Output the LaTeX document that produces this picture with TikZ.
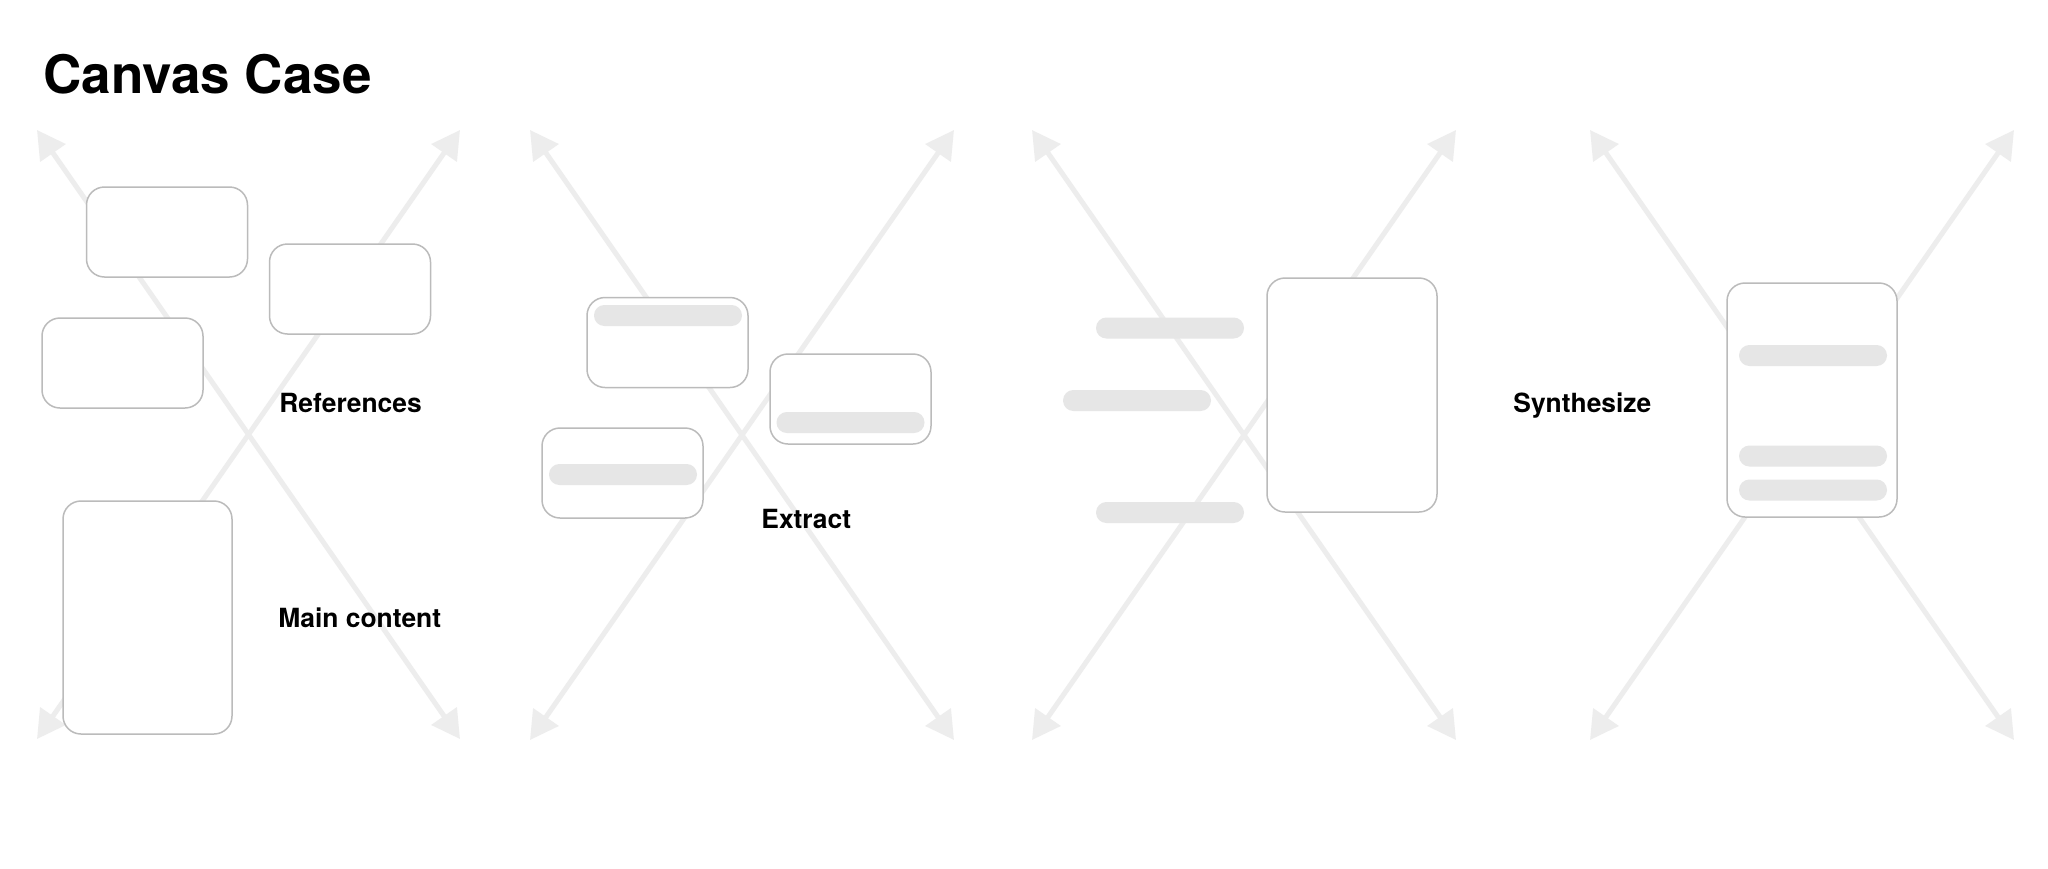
\documentclass[tikz,border=0pt]{standalone}
\usepackage{fontspec}
\setmainfont{TeX Gyre Heros}
\usetikzlibrary{arrows.meta}
\definecolor{xline}{HTML}{EDEDED}
\definecolor{cardline}{HTML}{BBBBBB}
\definecolor{barfill}{HTML}{E6E6E6}
\tikzset{
  xarrow/.style={draw=xline, line width=2.5pt,
    {Triangle[length=14pt,width=15pt]}-{Triangle[length=14pt,width=15pt]}},
  card/.style={draw=cardline, line width=0.75pt, fill=white, rounded corners=9pt,
    inner sep=0pt, minimum width=80.5pt, minimum height=45pt},
  bigcard/.style={card, minimum width=85pt, minimum height=117pt},
  bar/.style={fill=barfill, draw=none, rounded corners=5.2pt, inner sep=0pt,
    minimum width=74pt, minimum height=10.5pt},
  lbl/.style={anchor=base west, inner sep=0pt, font=\fontsize{13.2pt}{16pt}\selectfont\bfseries},
  ttl/.style={anchor=base west, inner sep=0pt, font=\fontsize{26.5pt}{32pt}\selectfont\bfseries}
}
\begin{document}
\begin{tikzpicture}[x=0.5pt, y=-0.5pt]
\useasboundingbox (0,0) rectangle (2048,868);
\fill[white] (0,0) rectangle (2048,868);
% title
\node[ttl] (title) at (43,93) {Canvas Case};
% arrow end points
\foreach \n/\l/\r/\b in {a/37/460/739, b/530/954/740, c/1032/1456/740, d/1590/2014/740}{
  \coordinate (\n tl) at (\l,130);
  \coordinate (\n tr) at (\r,130);
  \coordinate (\n bl) at (\l,\b);
  \coordinate (\n br) at (\r,\b);
}
\foreach \n in {a,b,c,d}{
  \draw[xarrow] (\n tl) -- (\n br);
  \draw[xarrow] (\n tr) -- (\n bl);
}
% panel 1
\node[card] (refA) at (167,232) {};
\node[card] (refB) at (350,289) {};
\node[card] (refC) at (122.5,363) {};
\node[bigcard, minimum width=84.5pt, minimum height=116.5pt] (mainD) at (147.5,617.5) {};
\node[lbl] (refs) at (279,412) {References};
\node[lbl] (maint) at (278,627) {Main content};
% panel 2
\node[card] (exA) at (667.5,342.5) {};
\node[bar] (exAbar) at (668,315.5) {};
\node[card] (exB) at (850.5,399) {};
\node[bar] (exBbar) at (850.5,422.5) {};
\node[card] (exC) at (622.5,473) {};
\node[bar] (exCbar) at (623,474.5) {};
\node[lbl] (extract) at (761,528) {Extract};
% panel 3
\node[bar] (sbar1) at (1170,328) {};
\node[bar] (sbar2) at (1137,400.5) {};
\node[bar] (sbar3) at (1170,512.5) {};
\node[bigcard] (sdoc) at (1352,395) {};
% panel 4
\node[bigcard] (fdoc) at (1812,400) {};
\node[bar] (fbar1) at (1813,355.5) {};
\node[bar] (fbar2) at (1813,456) {};
\node[bar] (fbar3) at (1813,490) {};
\node[lbl] (synth) at (1513,412) {Synthesize};
\end{tikzpicture}
\end{document}
